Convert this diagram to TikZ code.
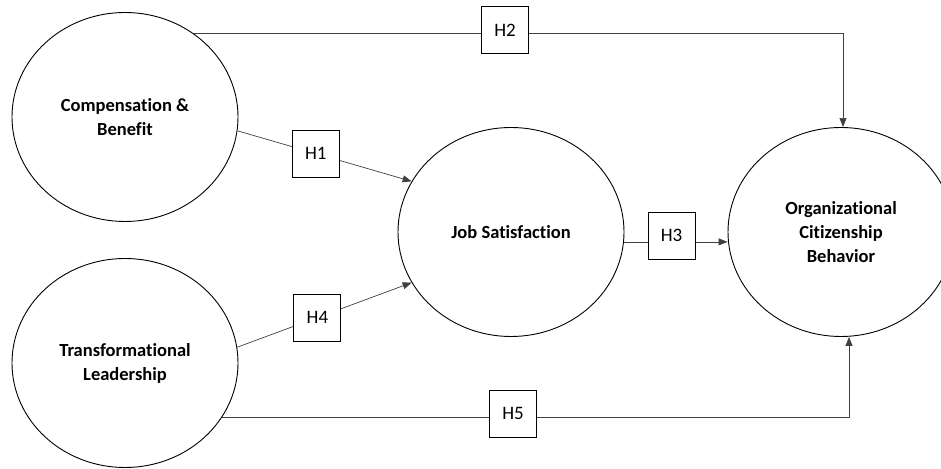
\documentclass[tikz,border=0pt]{standalone}
\usepackage{fontspec}
\setmainfont{Carlito}[Ligatures=NoCommon]
\usetikzlibrary{arrows.meta,shapes.geometric}

\begin{document}
\begin{tikzpicture}[x=1pt, y=1pt,
    construct/.style={ellipse, draw, line width=.9pt, minimum width=226pt, minimum height=209pt, inner sep=0pt, align=center, font=\fontsize{18.5}{24}\selectfont\bfseries},
    hyp/.style={draw=black, fill=white, line width=1pt, minimum size=47pt, inner sep=0pt, font=\fontsize{19}{22}\selectfont},
    link/.style={draw=black!75, line width=.7pt, -{Triangle[length=9pt,width=7pt]}}]
    \useasboundingbox (0,0) rectangle (941,468);
    \foreach \nm/\px/\py/\txt in {cb/125/351/{Compensation \&\\Benefit}, tl/125/105/{Transformational\\Leadership}, js/511/236/{Job Satisfaction}, ocb/841/236/{Organizational\\Citizenship\\Behavior}}
      \node[construct] (\nm) at (\px,\py) {\txt};
    \draw[link] (cb.-7) -- node[hyp, pos=.45] {H1} (js.153);
    \draw[link] (cb.51) -| node[hyp, pos=.24, yshift=3pt] {H2} ([xshift=2pt]ocb.north);
    \draw[link] (js.-5) -- node[hyp, pos=.46, yshift=6pt] {H3} (js.-5 -| ocb.west);
    \draw[link] (tl.8) -- node[hyp, pos=.46] {H4} (js.207);
    \draw[link] (tl.-29) -| node[hyp, pos=.232, yshift=3pt] {H5} ([xshift=8pt]ocb.south);
  \end{tikzpicture}
\end{document}
